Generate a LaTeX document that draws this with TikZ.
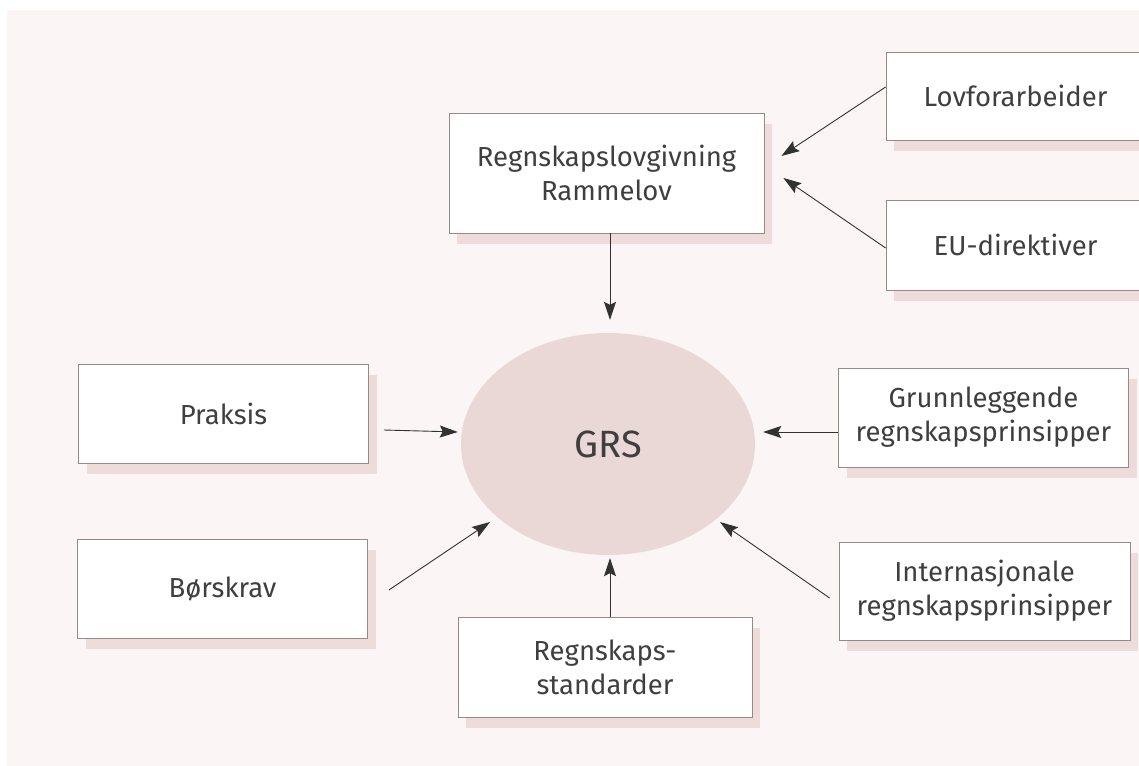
\documentclass[tikz,border=0pt]{standalone}
\usepackage{fontspec}
\setmainfont{Fira Sans}
\usetikzlibrary{arrows.meta,shapes.geometric,shadows}

\definecolor{paper}{RGB}{251,246,245}
\definecolor{edge}{RGB}{150,138,136}
\definecolor{shade}{RGB}{238,220,218}
\definecolor{grsfill}{RGB}{233,216,214}
\definecolor{ink}{RGB}{64,62,62}
\definecolor{arrowink}{RGB}{50,50,50}

\begin{document}
\begin{tikzpicture}[x=1pt,y=-1pt,
  box/.style={draw=edge, line width=0.8pt, fill=white, text=ink, align=center,
    inner sep=0pt, font=\fontsize{27.5}{34}\selectfont,
    drop shadow={shadow xshift=8pt, shadow yshift=-11pt, fill=shade, opacity=1}},
  sidebox/.style={box, minimum width=290pt, minimum height=99pt},
  arr/.style={draw=arrowink, line width=0.9pt,
    -{Stealth[length=18pt,width=12pt,inset=3pt]}}]

% fixed page frame
\useasboundingbox (0,0) rectangle (1139,765);

% page and paper
\fill[white] (0,0) rectangle (1139,765);
\fill[paper] (7,10) rectangle (1145,770);

% central concept
\node[ellipse, fill=grsfill, minimum width=294pt, minimum height=222pt,
  inner sep=0pt, text=ink, font=\fontsize{38}{40}\selectfont] (grs) at (608,444) {GRS};

% sources
\node[box, minimum width=315pt, minimum height=120pt] (rl) at (606.5,173)
  {Regnskapslovgivning\\Rammelov};
\node[box, minimum width=259pt, minimum height=88pt] (lov) at (1015.5,96)
  {Lovforarbeider};
\node[box, minimum width=259pt, minimum height=90pt] (eu) at (1015.5,245)
  {EU-direktiver};
\node[sidebox] (pr) at (223.5,413.5) {Praksis};
\node[sidebox] (bo) at (222.5,588.5) {Børskrav};
\node[sidebox] (gr) at (983.5,417.5) {Grunnleggende\\regnskapsprinsipper};
\node[sidebox, minimum width=291pt, minimum height=98pt] (int) at (984.5,591)
  {Internasjonale\\regnskapsprinsipper};
\node[box, minimum width=294pt, minimum height=100pt] (rs) at (605,667)
  {Regnskaps-\\standarder};

% connectors
\draw[arr] ([xshift=3.5pt]rl.south) -- ([shift={(2pt,13pt)}]grs.north);
\draw[arr] ([yshift=9pt]lov.west) -- ([shift={(17pt,17pt)}]rl.east);
\draw[arr] ([yshift=-3pt]eu.west) -- ([shift={(19pt,-5pt)}]rl.east);
\draw[arr] ([shift={(15pt,-16.5pt)}]pr.east) -- ([shift={(-3pt,12pt)}]grs.west);
\draw[arr] ([yshift=-14.5pt]gr.west) -- ([shift={(8pt,12pt)}]grs.east);
\draw[arr] ([shift={(21pt,-1.5pt)}]bo.east) -- ([shift={(-118pt,-78pt)}]grs.center);
\draw[arr] ([shift={(-9pt,-7pt)}]int.west) -- ([shift={(112pt,-78pt)}]grs.center);
\draw[arr] ([xshift=5pt]rs.north) -- ([shift={(2pt,-3pt)}]grs.south);
\end{tikzpicture}
\end{document}
